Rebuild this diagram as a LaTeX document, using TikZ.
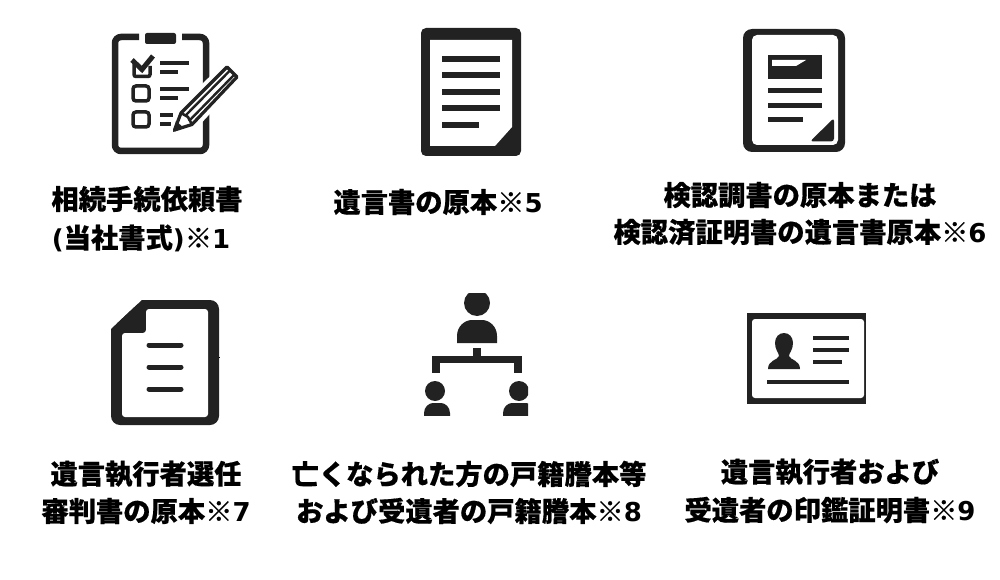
\documentclass[tikz,border=0pt]{standalone}
\usepackage{fontspec}
\newfontfamily\jp{Noto Sans CJK JP}[BoldFeatures={FakeBold=0.5}]
\newfontfamily\lat{DejaVu Sans}
\newcommand{\ltn}[1]{{\lat\bfseries\fontsize{26}{30}\selectfont #1}}
\definecolor{ink}{HTML}{222222}
\tikzset{
  lbl/.style={inner sep=0pt,font=\jp\bfseries\fontsize{27.3}{30}\selectfont,text=black,anchor=center},
  ink/.style={fill=ink,draw=none},
  wht/.style={fill=white,draw=none},
  ln/.style={draw=ink,line width=#1},
  ln/.default=5pt
}
\begin{document}
\begin{tikzpicture}[x=1pt,y=-1pt]
\useasboundingbox (0,0) rectangle (1000,580);
% icon 1 clipboard
\draw[ink,fill=none,draw=ink,line width=6.5pt,rounded corners=6pt,line cap=butt]
 (139,37) -- (115,37) -- (115,151) -- (206,151) -- (206,37) -- (182,37);
\fill[ink,rounded corners=2pt] (145,33) -- (176,33) -- (176,44) -- (145,44) -- cycle;
% checkboxes
\draw[ln=3.5pt,rounded corners=2pt] (134,62) -- (134,76.5) -- (150,76.5) -- (150,66);
\draw[ln=3.5pt,rounded corners=3pt] (133,86) rectangle (149,101);
\draw[ln=3.5pt,rounded corners=3pt] (133,112) rectangle (149,127);
\draw[ln=5pt,line cap=butt] (132,60) -- (142,69.5) -- (153,56);
\foreach \ya in {63,89}{
  \draw[ln=4pt] (160,\ya) -- (189,\ya);
  \draw[ln=4pt] (160,\ya+9) -- (178,\ya+9);
}
\draw[ln=4pt] (160,115) -- (173,115);
\draw[ln=4pt] (160,124) -- (171,124);
% pencil
\fill[white] (168,135) -- (176,109) -- (227,60) -- (244,77) -- (195,130) -- cycle;
\draw[ln=3.2pt,line join=round,fill=white] (174.5,130) -- (181,113) -- (227,67) -- (237,77) -- (192,124.5) -- cycle;
\draw[ln=2.4pt] (185,116) -- (229.5,71);
\draw[ln=2.4pt] (189,121) -- (234,75);
\draw[ln=2.6pt] (181,113) -- (188,117) -- (192,124.5);
\fill[ink] (173,132) -- (176,121) -- (184,128) -- cycle;
% icon 2
\fill[ink,rounded corners=5pt] (421,28) rectangle (521,156);
\fill[wht] (430,40) -- (512,40) -- (512,127) -- (495,146) -- (430,146) -- cycle;
\foreach \y in {59,75,92,108}{\draw[ln=6pt] (442,\y) -- (500,\y);}
\draw[ln=6pt] (442,125) -- (479,125);
% icon 3
\fill[ink,rounded corners=9pt] (743,29) rectangle (845,152);
\fill[wht,rounded corners=5pt] (752,35) rectangle (838,145);
\fill[ink] (768,55) rectangle (822,79);
\fill[wht] (772,60) -- (806,60) -- (796,66) -- (772,66) -- cycle;
\draw[ln=5pt] (768,91) -- (822,91);
\draw[ln=5pt] (768,106) -- (822,106);
\draw[ln=5pt] (768,120) -- (803,120);
\fill[ink,rounded corners=3pt] (810,141.5) -- (834,141.5) -- (834,118) -- cycle;
% icon 4
\fill[ink,rounded corners=9pt] (142,300) -- (219,300) -- (219,425) -- (111,425) -- (111,329) -- cycle;
\fill[ink] (142,300) -- (111,329) -- (111,340) -- (150,340) -- (150,300) -- cycle;
\fill[wht,rounded corners=3pt] (146,309) -- (208,309) -- (208,417) -- (122,417) -- (122,333) -- (146,333) -- cycle;
\foreach \y in {345,367,389}{\draw[ln=5pt,line cap=round] (149,\y) -- (181,\y);}
\fill[black] (218.5,356.5) rectangle (220,357.5);
% icon 5
\begin{scope}
\clip (400,293) rectangle (528,415);
\fill[ink] (477,303) circle (13);
\fill[ink] (457,343) -- (457,336) .. controls (457,326) and (465,320) .. (472,320) -- (482,320) .. controls (489,320) and (497,326) .. (497,336) -- (497,343) -- cycle;
\fill[ink] (435,391) circle (10);
\fill[ink] (519,391) circle (10);
\fill[ink] (424,416) -- (424,413) .. controls (424,407) and (429,403) .. (433,403) -- (441,403) .. controls (445,403) and (450,407) .. (450,413) -- (450,416) -- cycle;
\fill[ink] (503,416) -- (503,413) .. controls (503,407) and (508,403) .. (512,403) -- (526,403) .. controls (530,403) and (535,407) .. (535,413) -- (535,416) -- cycle;
\end{scope}
\fill[ink] (473,348) rectangle (481,358);
\fill[ink] (432,356) rectangle (522,363);
\fill[ink] (432,356) rectangle (440,373);
\fill[ink] (514,356) rectangle (522,373);
% icon 6
\fill[ink] (747,313) rectangle (866,404);
\fill[wht,rounded corners=3pt] (752,319) rectangle (864,398);
\draw[ln=4pt] (813,338) -- (849,338);
\draw[ln=4pt] (813,350) -- (849,350);
\draw[ln=4pt] (813,362) -- (842,362);
\draw[ln=4pt] (767,382) -- (849,382);
\fill[ink] (784,333) .. controls (789,333) and (793,337) .. (793,343) .. controls (793,350) and (789,353) .. (789,356) .. controls (790,360) and (800,360) .. (800,369) -- (768,369) .. controls (768,360) and (778,360) .. (779,356) .. controls (779,353) and (775,350) .. (775,343) .. controls (775,337) and (779,333) .. (784,333) -- cycle;
% labels
\node[lbl] (a1) at (147,199) {相続手続依頼書};
\node[lbl] (a2) at (141,238) {\ltn{(}当社書式\ltn{)}※\ltn{1}};
\node[lbl] (b1) at (438,202) {遺言書の原本※\ltn{5}};
\node[lbl] (c1) at (800,195) {検認調書の原本または};
\node[lbl] (c2) at (800,232) {検認済証明書の遺言書原本※\ltn{6}};
\node[lbl] (d1) at (146,474) {遺言執行者選任};
\node[lbl] (d2) at (146,511) {審判書の原本※\ltn{7}};
\node[lbl] (e1) at (469,474) {亡くなられた方の戸籍謄本等};
\node[lbl] (e2) at (469,511) {および受遺者の戸籍謄本※\ltn{8}};
\node[lbl] (f1) at (830,472) {遺言執行者および};
\node[lbl] (f2) at (830,510) {受遺者の印鑑証明書※\ltn{9}};
\end{tikzpicture}
\end{document}
